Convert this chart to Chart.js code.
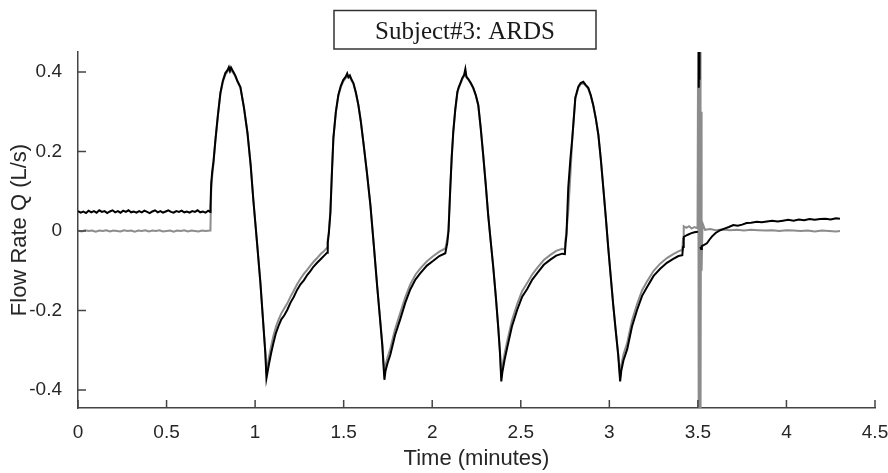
<!DOCTYPE html>
<html>
<head>
<meta charset="utf-8">
<script src="https://cdn.jsdelivr.net/npm/chart.js@4.4.1/dist/chart.umd.min.js"></script>
<style>
  html, body { margin: 0; padding: 0; background: #ffffff; }
  #wrap { width: 888px; height: 473px; position: relative; }
</style>
</head>
<body>
<div id="wrap"><canvas id="c" width="888" height="473"></canvas></div>
<script>
// ---------------- DATA ----------------
const chartTitle = "Subject#3: ARDS";
const xAxisTitle = "Time (minutes)";
const yAxisTitle = "Flow Rate Q (L/s)";
const xTickValues = [0, 0.5, 1, 1.5, 2, 2.5, 3, 3.5, 4, 4.5];
const xTickLabels = ["0", "0.5", "1", "1.5", "2", "2.5", "3", "3.5", "4", "4.5"];
const yTickValues = [-0.4, -0.2, 0, 0.2, 0.4];
const yTickLabels = ["-0.4", "-0.2", "0", "0.2", "0.4"];

// measured flow (black); null = gap in the trace
const measuredTime = [
  0.000,0.015,0.030,0.045,0.060,0.075,0.090,0.105,0.120,0.135,0.150,0.165,0.180,0.195,0.210,0.225,0.240,0.255,0.270,0.285,
  0.300,0.315,0.330,0.345,0.360,0.375,0.390,0.405,0.420,0.435,0.450,0.465,0.480,0.495,0.510,0.525,0.540,0.555,0.570,0.585,
  0.600,0.615,0.630,0.645,0.660,0.675,0.690,0.705,0.720,0.735,0.746,
  0.748,0.752,0.758,0.765,0.776,0.790,0.804,0.818,0.832,0.845,0.852,0.858,0.864,0.872,0.880,0.889,0.900,0.917,0.937,0.957,
  0.975,0.990,1.010,1.030,1.048,1.058,1.064,1.070,1.078,1.090,1.103,1.118,1.133,1.148,1.165,1.182,1.200,1.218,1.237,1.256,
  1.275,1.295,1.312,1.329,1.350,1.370,1.390,1.406,
  1.410,1.416,1.425,1.433,1.442,1.456,1.470,1.484,1.498,1.512,1.520,1.527,1.535,1.545,1.555,1.569,1.583,1.597,1.611,1.631,
  1.651,1.670,1.690,1.705,1.718,1.730,1.736,1.748,1.763,1.790,1.820,1.848,1.876,1.905,1.933,1.970,2.006,2.040,2.074,
  2.085,2.092,2.102,2.110,2.119,2.130,2.142,2.150,2.159,2.170,2.180,2.187,2.193,2.204,2.218,2.232,2.246,2.260,2.274,2.288,
  2.302,2.316,2.330,2.345,2.360,2.373,2.383,2.390,2.396,2.408,2.424,2.450,2.480,2.508,2.537,2.565,2.593,2.630,2.667,2.700,
  2.734,2.749,
  2.753,2.758,2.768,2.780,2.791,2.808,2.825,2.838,2.853,2.865,2.881,2.895,2.909,2.924,2.938,2.952,2.966,2.980,2.994,3.008,
  3.022,3.036,3.050,3.061,3.068,3.080,3.101,3.128,3.157,3.185,3.214,3.250,3.287,3.325,3.361,3.390,3.412,
  3.416,3.420,3.440,3.460,3.480,3.500,3.503,3.505,3.507,3.509,3.510,3.514,3.518,3.522,3.535,3.551,3.565,3.579,3.600,3.626,
  3.650,3.675,3.700,3.725,3.750,3.775,3.800,3.833,3.860,3.890,3.920,3.950,3.980,4.010,4.040,4.070,4.100,4.130,4.160,4.190,
  4.220,4.250,4.280,4.302
];
const measuredFlow = [
  0.050,0.046,0.049,0.045,0.051,0.047,0.050,0.046,0.052,0.048,0.050,0.045,0.049,0.052,0.047,0.050,0.046,0.051,0.048,0.052,
  0.047,0.049,0.046,0.050,0.047,0.051,0.048,0.045,0.049,0.052,0.047,0.050,0.046,0.049,0.052,0.048,0.046,0.050,0.048,0.051,
  0.047,0.049,0.046,0.050,0.048,0.052,0.047,0.049,0.046,0.051,0.048,
  0.060,0.120,0.150,0.175,0.229,0.292,0.347,0.378,0.397,0.405,0.412,0.403,0.411,0.404,0.398,0.390,0.377,0.362,0.310,0.246,
  0.165,0.078,-0.025,-0.131,-0.245,-0.310,-0.370,-0.355,-0.335,-0.308,-0.282,-0.256,-0.238,-0.222,-0.212,-0.198,-0.180,-0.166,-0.148,-0.134,
  -0.124,-0.110,-0.101,-0.090,-0.080,-0.071,-0.062,-0.055,
  -0.030,-0.008,0.045,0.140,0.234,0.300,0.342,0.365,0.380,0.388,0.396,0.387,0.391,0.380,0.372,0.348,0.317,0.275,0.224,0.148,
  0.065,-0.035,-0.143,-0.220,-0.287,-0.374,-0.352,-0.332,-0.312,-0.262,-0.221,-0.180,-0.147,-0.122,-0.106,-0.087,-0.075,-0.063,-0.056,
  -0.030,0.000,0.108,0.185,0.250,0.305,0.350,0.362,0.372,0.385,0.392,0.407,0.388,0.382,0.372,0.360,0.342,0.317,0.258,0.190,
  0.118,0.040,-0.025,-0.093,-0.170,-0.244,-0.310,-0.378,-0.355,-0.325,-0.292,-0.240,-0.198,-0.165,-0.145,-0.122,-0.106,-0.085,-0.072,-0.062,
  -0.057,-0.058,
  -0.030,-0.010,0.108,0.180,0.234,0.335,0.363,0.372,0.375,0.368,0.360,0.342,0.317,0.282,0.242,0.180,0.108,0.035,-0.043,-0.115,
  -0.186,-0.250,-0.312,-0.378,-0.350,-0.325,-0.297,-0.240,-0.198,-0.163,-0.140,-0.113,-0.095,-0.080,-0.070,-0.063,-0.061,
  -0.040,-0.015,-0.010,-0.006,-0.003,-0.002,null,0.360,0.700,0.380,null,-0.040,-0.045,-0.038,-0.035,-0.031,-0.022,-0.014,-0.005,0.002,
  0.006,0.010,0.015,0.013,0.016,0.020,0.021,0.023,0.022,0.024,0.026,0.024,0.026,0.028,0.026,0.029,0.027,0.030,0.028,0.030,
  0.031,0.029,0.032,0.031
];

// model flow (grey)
const modelTime = [
  0.000,0.020,0.040,0.060,0.080,0.100,0.120,0.140,0.160,0.180,0.200,0.220,0.240,0.260,0.280,0.300,0.320,0.340,0.360,0.380,
  0.400,0.420,0.440,0.460,0.480,0.500,0.520,0.540,0.560,0.580,0.600,0.620,0.640,0.660,0.680,0.700,0.720,0.746,
  0.748,0.752,0.758,0.765,0.776,0.790,0.804,0.818,0.832,0.845,0.852,0.858,0.864,0.872,0.880,0.889,0.900,0.917,0.937,0.957,
  0.975,0.990,1.010,1.030,1.048,1.058,1.064,1.070,1.078,1.090,1.103,1.118,1.133,1.148,1.165,1.182,1.200,1.218,1.237,1.256,
  1.275,1.295,1.312,1.329,1.350,1.370,1.390,1.406,
  1.410,1.416,1.425,1.433,1.442,1.456,1.470,1.484,1.498,1.512,1.520,1.527,1.535,1.545,1.555,1.569,1.583,1.597,1.611,1.631,
  1.651,1.670,1.690,1.705,1.718,1.730,1.736,1.748,1.763,1.790,1.820,1.848,1.876,1.905,1.933,1.970,2.006,2.040,2.074,
  2.085,2.092,2.102,2.110,2.119,2.130,2.142,2.150,2.159,2.170,2.180,2.187,2.193,2.204,2.218,2.232,2.246,2.260,2.274,2.288,
  2.302,2.316,2.330,2.345,2.360,2.373,2.383,2.390,2.396,2.408,2.424,2.450,2.480,2.508,2.537,2.565,2.593,2.630,2.667,2.700,
  2.734,2.749,
  2.753,2.758,2.768,2.780,2.791,2.808,2.825,2.838,2.853,2.865,2.881,2.895,2.909,2.924,2.938,2.952,2.966,2.980,2.994,3.008,
  3.022,3.036,3.050,3.061,3.068,3.080,3.101,3.128,3.157,3.185,3.214,3.250,3.287,3.325,3.361,3.390,3.412,
  3.416,3.420,3.435,3.450,3.465,3.480,3.498,3.502,3.504,3.506,3.508,3.510,3.512,3.514,3.516,3.518,3.521,3.526,3.540,3.570,
  3.600,3.640,3.680,3.720,3.760,3.800,3.840,3.880,3.920,3.960,4.000,4.040,4.080,4.120,4.160,4.200,4.240,4.280,4.302
];
const modelFlow = [
  0.001,-0.001,0.002,0.000,0.001,-0.002,0.001,0.000,0.002,-0.001,0.001,0.000,-0.001,0.002,0.000,0.001,-0.002,0.001,0.000,0.002,
  -0.001,0.001,0.000,0.002,-0.001,0.000,0.001,-0.002,0.001,0.000,0.002,-0.001,0.001,0.000,-0.001,0.001,0.000,0.001,
  0.010,0.100,0.140,0.170,0.229,0.290,0.345,0.375,0.393,0.402,0.405,0.400,0.404,0.400,0.395,0.388,0.376,0.360,0.310,0.246,
  0.165,0.078,-0.025,-0.131,-0.245,-0.305,-0.358,-0.340,-0.318,-0.290,-0.264,-0.240,-0.222,-0.207,-0.194,-0.182,-0.165,-0.150,-0.134,-0.120,
  -0.108,-0.097,-0.087,-0.078,-0.068,-0.058,-0.050,-0.042,
  -0.020,-0.002,0.050,0.140,0.234,0.298,0.340,0.362,0.376,0.385,0.390,0.385,0.387,0.378,0.370,0.346,0.316,0.275,0.224,0.148,
  0.065,-0.035,-0.143,-0.218,-0.283,-0.362,-0.338,-0.317,-0.296,-0.247,-0.205,-0.166,-0.134,-0.110,-0.094,-0.076,-0.063,-0.052,-0.044,
  -0.020,0.004,0.108,0.185,0.250,0.303,0.347,0.360,0.370,0.382,0.390,0.400,0.386,0.380,0.370,0.358,0.340,0.316,0.258,0.190,
  0.118,0.040,-0.025,-0.093,-0.170,-0.244,-0.306,-0.366,-0.340,-0.310,-0.276,-0.225,-0.183,-0.151,-0.130,-0.109,-0.093,-0.073,-0.060,-0.050,
  -0.045,-0.046,
  -0.020,-0.002,0.050,0.140,0.234,0.333,0.360,0.369,0.372,0.366,0.358,0.340,0.316,0.282,0.242,0.180,0.108,0.035,-0.043,-0.115,
  -0.186,-0.250,-0.308,-0.365,-0.336,-0.310,-0.281,-0.225,-0.183,-0.149,-0.126,-0.100,-0.082,-0.068,-0.058,-0.051,-0.047,
  -0.020,0.012,0.008,0.012,0.006,0.010,0.007,0.600,-0.700,0.700,-0.700,0.700,-0.600,0.600,-0.500,0.300,-0.100,0.020,0.003,0.005,
  0.002,0.004,0.002,0.003,0.001,0.003,0.002,0.001,0.002,0.000,0.002,0.001,0.000,0.001,-0.001,0.001,0.000,-0.001,0.000
];

// ---------------- CHART ----------------
function pairs(xs, ys) { return xs.map((x, i) => ({ x: x, y: ys[i] })); }

const AXIS_COLOR = '#444444';
const TEXT_COLOR = '#262626';

const innerTicks = {
  id: 'innerTicks',
  afterDraw(chart) {
    const ctx = chart.ctx, ca = chart.chartArea;
    const xs = chart.scales.x, ys = chart.scales.y;
    ctx.save();
    ctx.strokeStyle = AXIS_COLOR;
    ctx.lineWidth = 1.5;
    ctx.beginPath();
    xTickValues.forEach(v => {
      const px = xs.getPixelForValue(v);
      ctx.moveTo(px, ca.bottom);
      ctx.lineTo(px, ca.bottom - 8);
    });
    yTickValues.forEach(v => {
      const py = ys.getPixelForValue(v);
      ctx.moveTo(ca.left, py);
      ctx.lineTo(ca.left + 8, py);
    });
    ctx.stroke();
    ctx.restore();
  }
};

const boxedTitle = {
  id: 'boxedTitle',
  afterDraw(chart) {
    const ctx = chart.ctx;
    ctx.save();
    const bx = 334, by = 10.5, bw = 262, bh = 38.5;
    ctx.fillStyle = '#ffffff';
    ctx.fillRect(bx, by, bw, bh);
    ctx.strokeStyle = '#333333';
    ctx.lineWidth = 1.5;
    ctx.strokeRect(bx, by, bw, bh);
    ctx.fillStyle = '#1a1a1a';
    ctx.font = '25px "Liberation Serif", "Times New Roman", serif';
    ctx.textAlign = 'center';
    ctx.textBaseline = 'alphabetic';
    ctx.fillText(chartTitle, bx + bw / 2, by + 28.5);
    ctx.restore();
  }
};

new Chart(document.getElementById('c'), {
  type: 'line',
  data: {
    datasets: [
      {
        label: 'Measured',
        data: pairs(measuredTime, measuredFlow),
        borderColor: '#000000',
        borderWidth: 2,
        pointRadius: 0,
        tension: 0,
        spanGaps: false,
        fill: false
      },
      {
        label: 'Model',
        data: pairs(modelTime, modelFlow),
        borderColor: '#8c8c8c',
        borderWidth: 2,
        pointRadius: 0,
        tension: 0,
        fill: false
      }
    ]
  },
  options: {
    responsive: false,
    animation: false,
    devicePixelRatio: 1,
    layout: { padding: { left: 0, right: 13, top: 52, bottom: 0 } },
    plugins: { legend: { display: false }, tooltip: { enabled: false }, title: { display: false } },
    scales: {
      x: {
        type: 'linear',
        min: 0, max: 4.5,
        afterBuildTicks(scale) { scale.ticks = xTickValues.map(v => ({ value: v })); },
        afterFit(scale) { scale.height = 65; scale.paddingLeft = 0; scale.paddingRight = 0; },
        ticks: {
          callback: (v, i) => xTickLabels[i],
          font: { family: '"Liberation Sans", Arial, sans-serif', size: 19 },
          color: TEXT_COLOR,
          padding: 5,
          maxRotation: 0,
          autoSkip: false
        },
        grid: { display: false },
        border: { display: true, color: AXIS_COLOR, width: 1.5 },
        title: {
          display: true, text: xAxisTitle,
          font: { family: '"Liberation Sans", Arial, sans-serif', size: 22 },
          color: TEXT_COLOR,
          padding: { top: 0, bottom: 1 }
        }
      },
      y: {
        type: 'linear',
        min: -0.445, max: 0.45,
        afterBuildTicks(scale) { scale.ticks = yTickValues.map(v => ({ value: v })); },
        afterFit(scale) { scale.width = 78; scale.paddingTop = 0; scale.paddingBottom = 0; },
        ticks: {
          callback: (v, i) => yTickLabels[i],
          font: { family: '"Liberation Sans", Arial, sans-serif', size: 19 },
          color: TEXT_COLOR,
          padding: 8,
          autoSkip: false
        },
        grid: { display: false },
        border: { display: true, color: AXIS_COLOR, width: 1.5 },
        title: {
          display: true, text: yAxisTitle,
          font: { family: '"Liberation Sans", Arial, sans-serif', size: 22 },
          color: TEXT_COLOR,
          padding: { top: 7, bottom: 0 }
        }
      }
    }
  },
  plugins: [innerTicks, boxedTitle]
});
</script>
</body>
</html>
